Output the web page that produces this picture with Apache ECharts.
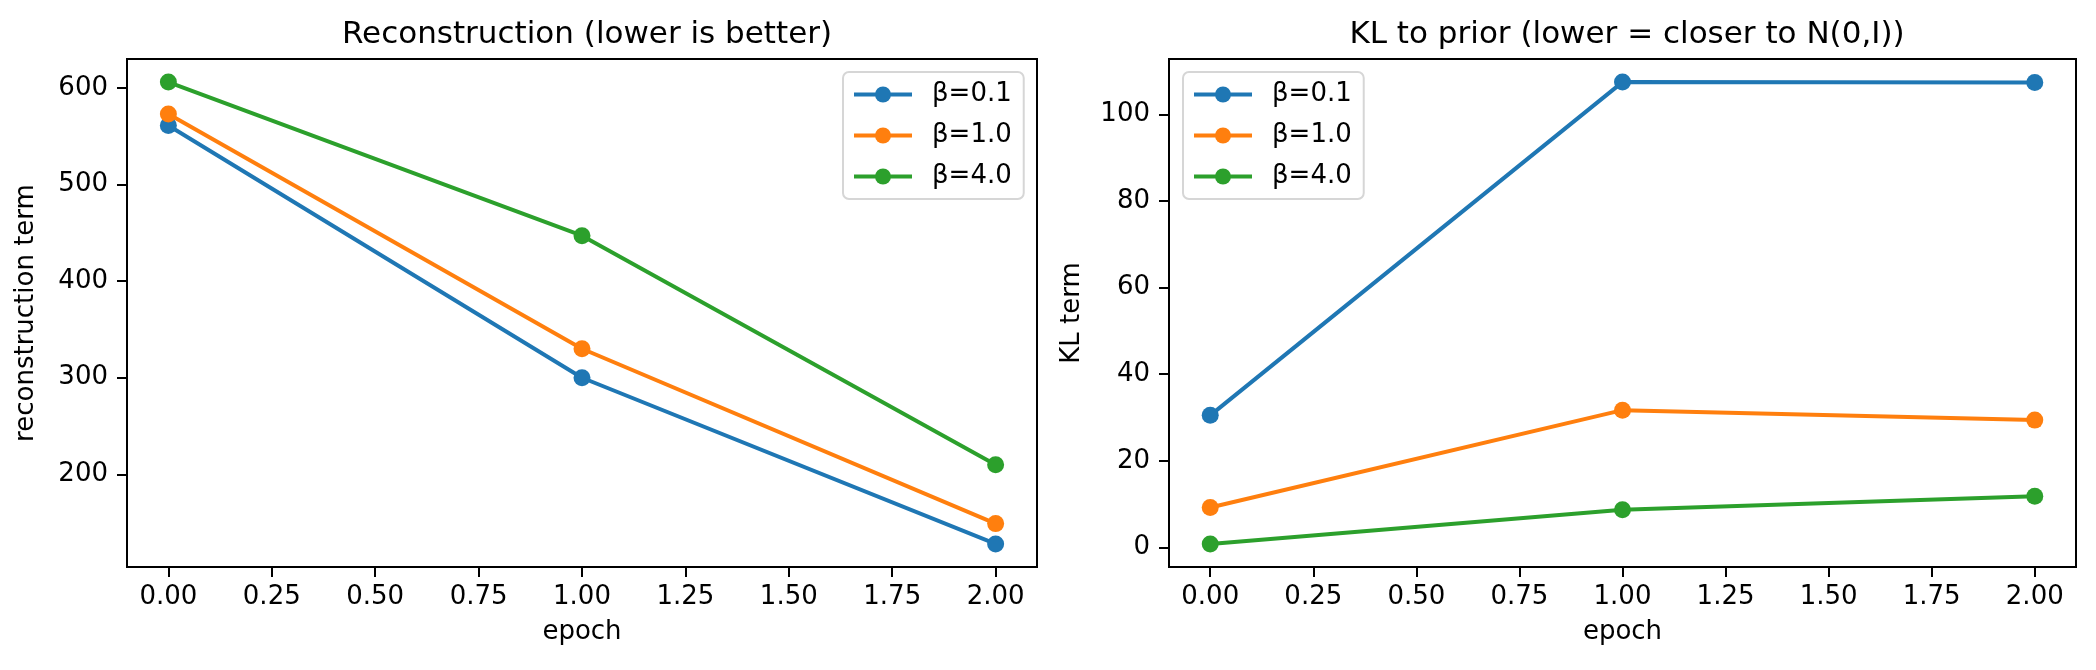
<!DOCTYPE html>
<html>
<head>
<meta charset="utf-8">
<script src="https://cdn.jsdelivr.net/npm/echarts@6.0.0/dist/echarts.min.js"></script>
<style>
  html, body { margin: 0; padding: 0; background: #fff; }
  #main { width: 2096px; height: 670px; }
</style>
</head>
<body>
<div id="main"></div>
<script>
// data
var epochs = [0, 1, 2];
var betaNames = ['β=0.1', 'β=1.0', 'β=4.0'];
var recon01 = [561, 300, 128];
var recon10 = [573, 330, 149];
var recon40 = [606, 447, 210];
var kl01 = [30.5, 107.5, 107.4];
var kl10 = [9.2, 31.7, 29.4];
var kl40 = [0.8, 8.7, 11.8];
var xTicks = [0, 0.25, 0.5, 0.75, 1, 1.25, 1.5, 1.75, 2];
var reconTicks = [200, 300, 400, 500, 600];
var klTicks = [0, 20, 40, 60, 80, 100];

var colors = ['#1f77b4', '#ff7f0e', '#2ca02c'];
var font = 'DejaVu Sans';

// matplotlib style 5% margins
function pad(lists) {
  var all = [].concat.apply([], lists);
  var lo = Math.min.apply(null, all), hi = Math.max.apply(null, all);
  var m = (hi - lo) * 0.05;
  return { min: lo - m, max: hi + m };
}
var xr = pad([epochs]);
var rr = pad([recon01, recon10, recon40]);
var kr = pad([kl01, kl10, kl40]);

function pairs(ys) {
  return epochs.map(function (x, i) { return [x, ys[i]]; });
}

function xAxisFor(idx) {
  return {
    type: 'value', gridIndex: idx, min: xr.min, max: xr.max,
    name: 'epoch', nameLocation: 'middle', nameGap: 52,
    nameTextStyle: { fontFamily: font, fontSize: 26, color: '#000' },
    axisLine: { show: true, onZero: false, lineStyle: { color: '#000', width: 2 } },
    axisTick: { show: true, length: 10, lineStyle: { color: '#000', width: 2 }, customValues: xTicks },
    axisLabel: { fontFamily: font, fontSize: 26, color: '#000', margin: 17, customValues: xTicks,
      formatter: function (v) { return v.toFixed(2); } },
    splitLine: { show: false }
  };
}

function yAxisFor(idx, r, ticks, name, gap) {
  return {
    type: 'value', gridIndex: idx, min: r.min, max: r.max,
    name: name, nameLocation: 'middle', nameGap: gap,
    nameTextStyle: { fontFamily: font, fontSize: 26, color: '#000' },
    axisLine: { show: true, onZero: false, lineStyle: { color: '#000', width: 2 } },
    axisTick: { show: true, length: 10, lineStyle: { color: '#000', width: 2 }, customValues: ticks },
    axisLabel: { fontFamily: font, fontSize: 26, color: '#000', margin: 19, customValues: ticks },
    splitLine: { show: false }
  };
}

function lineSeries(name, ys, c, idx) {
  return {
    name: name, type: 'line', xAxisIndex: idx, yAxisIndex: idx,
    data: pairs(ys), symbol: 'circle', symbolSize: 17, showSymbol: true,
    lineStyle: { color: c, width: 4 }, itemStyle: { color: c },
    emphasis: { disabled: true }
  };
}

function legendAt(left) {
  return {
    data: betaNames, orient: 'vertical', left: left, top: 72,
    itemWidth: 58, itemHeight: 20, itemGap: 14,
    padding: [9, 12, 9, 9],
    backgroundColor: 'rgba(255,255,255,0.8)',
    borderColor: '#d6d6d6', borderWidth: 2, borderRadius: 6,
    lineStyle: { width: 4 },
    textStyle: { fontFamily: font, fontSize: 26, color: '#000', lineHeight: 27, padding: [0, 0, 0, 15] }
  };
}

var chart = echarts.init(document.getElementById('main'));
var option = {
  backgroundColor: '#fff',
  animation: false,
  title: [
    { text: 'Reconstruction (lower is better)', left: 582, top: 14, textAlign: 'center',
      textStyle: { fontFamily: font, fontSize: 31, fontWeight: 'normal', color: '#000' } },
    { text: 'KL to prior (lower = closer to N(0,I))', left: 1622, top: 14, textAlign: 'center',
      textStyle: { fontFamily: font, fontSize: 31, fontWeight: 'normal', color: '#000' } }
  ],
  legend: [legendAt(843), legendAt(1183)],
  grid: [
    { left: 127, top: 59, width: 910, height: 508, show: true, borderColor: '#000', borderWidth: 2 },
    { left: 1169, top: 59, width: 907, height: 508, show: true, borderColor: '#000', borderWidth: 2 }
  ],
  xAxis: [xAxisFor(0), xAxisFor(1)],
  yAxis: [
    yAxisFor(0, rr, reconTicks, 'reconstruction term', 88),
    yAxisFor(1, kr, klTicks, 'KL term', 84)
  ],
  series: [
    lineSeries(betaNames[0], recon01, colors[0], 0),
    lineSeries(betaNames[1], recon10, colors[1], 0),
    lineSeries(betaNames[2], recon40, colors[2], 0),
    lineSeries(betaNames[0], kl01, colors[0], 1),
    lineSeries(betaNames[1], kl10, colors[1], 1),
    lineSeries(betaNames[2], kl40, colors[2], 1)
  ]
};
option && chart.setOption(option);
</script>
</body>
</html>
